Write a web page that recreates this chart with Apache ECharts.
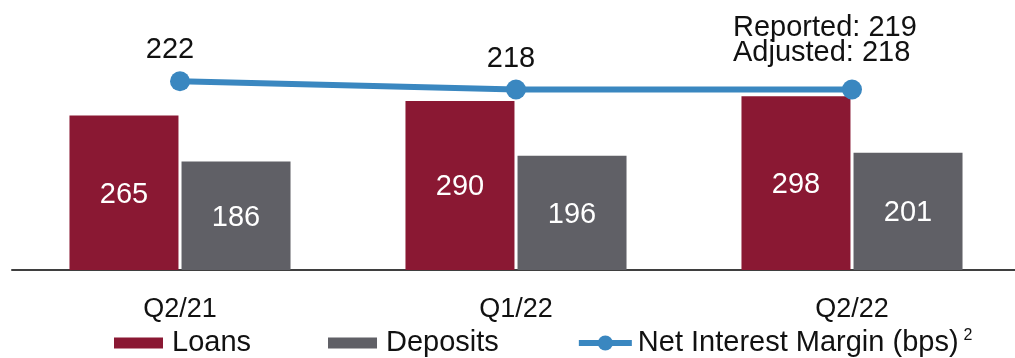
<!DOCTYPE html>
<html>
<head>
<meta charset="utf-8">
<script src="https://cdn.jsdelivr.net/npm/echarts@6/dist/echarts.min.js"></script>
<style>
  html, body { margin: 0; padding: 0; background: #fff; overflow: hidden; width: 1015px; height: 358px; }
  #chart { width: 1030px; height: 358px; }
</style>
</head>
<body>
<div id="chart"></div>
<script>
// ---- data ----
const categories = ['Q2/21', 'Q1/22', 'Q2/22'];
const loans = [265, 290, 298];
const deposits = [186, 196, 201];
const nim = [222, 218, 218];
const nimLabels = ['222', '218', 'Reported: 219\nAdjusted: 218'];
const seriesNames = ['Loans', 'Deposits', 'Net Interest Margin (bps)'];

const FONT = '"Liberation Sans", Arial, Helvetica, sans-serif';
const chart = echarts.init(document.getElementById('chart'), null, { renderer: 'canvas' });

// legend rect icon: 49x11 bar inside a 53x19 icon box (invisible corner points keep the box)
const RECT_ICON = 'path://M0,0L0,0M0,4L49,4L49,15L0,15ZM53,19L53,19';

const nimData = nim.map((v, i) => {
  const last = i === nim.length - 1;
  return {
    value: v,
    label: last
      ? { formatter: nimLabels[i], align: 'left', lineHeight: 25, offset: [-119, -9] }
      : { formatter: nimLabels[i], lineHeight: 28, offset: [i === 0 ? -10 : -5, -2] }
  };
});

chart.setOption({
  animation: false,
  backgroundColor: '#ffffff',
  textStyle: { fontFamily: FONT },
  grid: { left: 12, top: 7.6, width: 1008, height: 262.4, containLabel: false },
  legend: {
    data: [
      { name: seriesNames[0], icon: RECT_ICON },
      { name: seriesNames[1], icon: RECT_ICON },
      { name: seriesNames[2], lineStyle: { width: 6 }, textStyle: { padding: [0, 0, 0, 1] } }
    ],
    left: 114,
    top: 328,
    padding: 0,
    itemGap: 77,
    itemWidth: 53,
    itemHeight: 19,
    textStyle: {
      fontFamily: FONT, fontSize: 29, color: '#111', lineHeight: 30,
      rich: { sup: { fontFamily: FONT, fontSize: 16, color: '#111', verticalAlign: 'top', lineHeight: 3, padding: [0, 0, 0, 5] } }
    },
    formatter: name => name === seriesNames[2] ? name + '{sup|2}' : name
  },
  xAxis: {
    type: 'category',
    data: categories,
    axisTick: { show: false },
    axisLine: { lineStyle: { color: '#3f3f3f', width: 2 } },
    axisLabel: { fontFamily: FONT, fontSize: 27, color: '#111', margin: 26 }
  },
  yAxis: [
    { type: 'value', min: 0, max: 450, show: false, splitLine: { show: false } },
    { type: 'value', min: 131, max: 257.5, show: false, splitLine: { show: false } }
  ],
  series: [
    {
      name: seriesNames[0], type: 'bar', data: loans, barWidth: 109, barGap: '2.8%',
      itemStyle: { color: '#8a1833' },
      label: { show: true, position: 'inside', color: '#fff', fontFamily: FONT, fontSize: 29, offset: [0, 2] }
    },
    {
      name: seriesNames[1], type: 'bar', data: deposits, barWidth: 109,
      itemStyle: { color: '#606066' },
      label: { show: true, position: 'inside', color: '#fff', fontFamily: FONT, fontSize: 29, offset: [0, 2] }
    },
    {
      name: seriesNames[2], type: 'line', yAxisIndex: 1, data: nimData,
      symbol: 'circle', symbolSize: 20,
      lineStyle: { color: '#3a87c0', width: 6 },
      itemStyle: { color: '#3a87c0' },
      label: { show: true, position: 'top', color: '#111', fontFamily: FONT, fontSize: 29 },
      z: 5
    }
  ]
});
</script>
</body>
</html>
